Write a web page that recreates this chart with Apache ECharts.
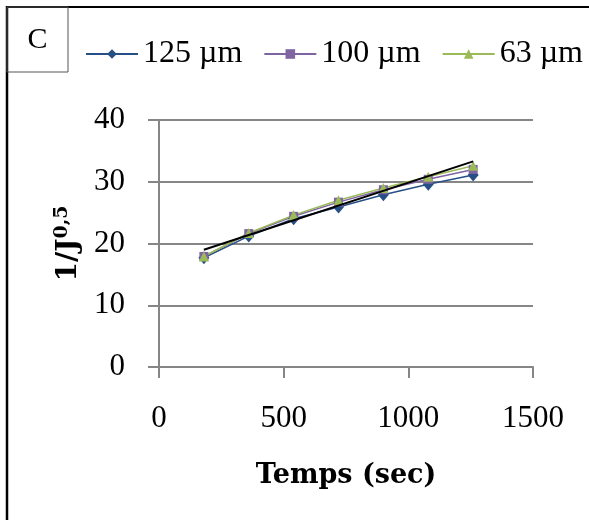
<!DOCTYPE html>
<html><head><meta charset="utf-8">
<script src="https://cdn.jsdelivr.net/npm/echarts@6/dist/echarts.min.js"></script>
<style>html,body{margin:0;padding:0;background:#fff}#c{width:589px;height:520px}</style>
</head><body><div id="c"></div>
<script>
const timeSec = [180, 360, 540, 720, 900, 1080, 1260];
const s125 = [17.7, 21.2, 24.0, 25.9, 27.9, 29.6, 31.1];
const s100 = [17.9, 21.6, 24.4, 26.7, 28.7, 30.4, 32.0];
const s63  = [17.9, 21.7, 24.6, 27.0, 29.0, 30.8, 32.6];
const trendX = [180, 1260];
const trendY = [19.0, 33.3];
const seriesNames = ['125 µm', '100 µm', '63 µm'];
const xTicks = [0, 500, 1000, 1500];
const yTicks = [0, 10, 20, 30, 40];

const pair = (xs, ys) => xs.map((x, i) => [x, ys[i]]);
const serif = 'Liberation Serif';
const chart = echarts.init(document.getElementById('c'), null, {renderer: 'canvas'});
chart.setOption({
  animation: false,
  backgroundColor: '#fff',
  grid: {left: 159, right: 56, top: 120, bottom: 153, containLabel: false},
  legend: {
    data: seriesNames,
    left: 85, top: 38, padding: 0,
    itemWidth: 52, itemHeight: 12, itemGap: 21,
    textStyle: {fontFamily: serif, fontSize: 32, color: '#000'}
  },
  xAxis: {
    type: 'value', min: xTicks[0], max: xTicks[xTicks.length-1], interval: 500,
    name: 'Temps (sec)', nameLocation: 'middle', nameGap: 95,
    nameTextStyle: {fontFamily: 'DejaVu Serif', fontWeight: 'bold', fontSize: 27, color: '#000'},
    axisLine: {lineStyle: {color: '#868686', width: 2}},
    axisTick: {show: true, length: 11, lineStyle: {color: '#868686', width: 2}},
    axisLabel: {fontFamily: serif, fontSize: 31, color: '#000', margin: 36, formatter: v => String(v)},
    splitLine: {show: false}
  },
  yAxis: {
    type: 'value', min: yTicks[0], max: yTicks[yTicks.length-1], interval: 10,
    name: '{a|1/J}{b|0,5}', nameLocation: 'middle', nameGap: 68,
    nameTextStyle: {
      rich: {
        a: {fontFamily: 'DejaVu Serif', fontWeight: 'bold', fontSize: 28, color: '#000'},
        b: {fontFamily: 'DejaVu Serif', fontWeight: 'bold', fontSize: 19, color: '#000', verticalAlign: 'top', padding: [0,0,14,0]}
      }
    },
    axisLine: {show: true, lineStyle: {color: '#868686', width: 2}},
    axisTick: {show: true, length: 11, lineStyle: {color: '#868686', width: 2}},
    axisLabel: {fontFamily: serif, fontSize: 31, color: '#000', margin: 34, formatter: v => String(v)},
    splitLine: {show: true, lineStyle: {color: '#868686', width: 2}}
  },
  series: [
    {name: seriesNames[0], type: 'line', data: pair(timeSec, s125), symbol: 'diamond', symbolSize: [11, 13],
     itemStyle: {color: '#264F86'}, lineStyle: {color: '#264F86', width: 1.5}},
    {name: seriesNames[1], type: 'line', data: pair(timeSec, s100), symbol: 'rect', symbolSize: 9,
     itemStyle: {color: '#8064A2'}, lineStyle: {color: '#8064A2', width: 1.5}},
    {name: seriesNames[2], type: 'line', data: pair(timeSec, s63), symbol: 'triangle', symbolSize: 10,
     itemStyle: {color: '#9BBB59'}, lineStyle: {color: '#9BBB59', width: 1.5}},
    {name: 'trend', type: 'line', data: pair(trendX, trendY), symbol: 'none',
     lineStyle: {color: '#000', width: 2}, z: 5}
  ],
  graphic: [
    {type: 'line', shape: {x1: 6, y1: 7, x2: 589, y2: 7}, style: {stroke: '#000', lineWidth: 2}},
    {type: 'line', shape: {x1: 7, y1: 6, x2: 7, y2: 520}, style: {stroke: '#000', lineWidth: 2.5}},
    {type: 'rect', shape: {x: 7, y: 7, width: 61, height: 65}, style: {fill: 'none', stroke: '#555', lineWidth: 1}},
    {type: 'text', x: 37.5, y: 40, style: {text: 'C', fontFamily: serif, fontSize: 30, fill: '#000', align: 'center', verticalAlign: 'middle'}}
  ]
});
</script></body></html>
